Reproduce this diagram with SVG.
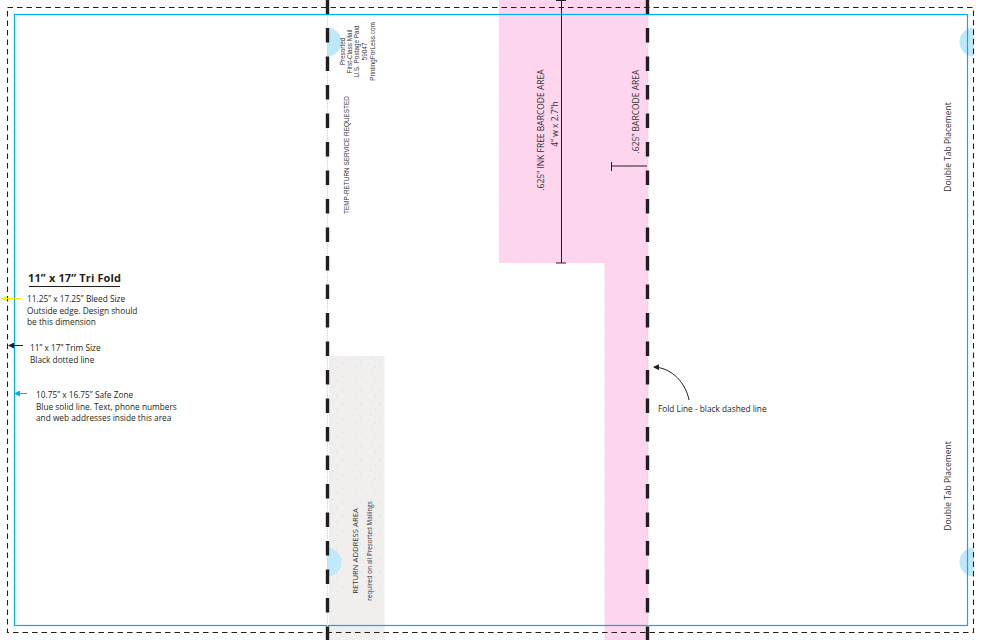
<svg xmlns="http://www.w3.org/2000/svg" width="982" height="640" viewBox="0 0 982 640">
<style>
text{font-family:"Open Sans","Noto Sans",sans-serif;fill:#231f20;font-size:8.3px}
.h{font-family:"Liberation Sans",Arial,sans-serif;font-size:6.4px;text-anchor:middle;fill:#3a3637}
.b{font-size:8.5px;text-anchor:middle;fill:#333}
.fold{stroke:#231f20;stroke-width:3.4;stroke-dasharray:14.5 14;fill:none}
.edge{stroke:#d5d3d3;stroke-width:1;stroke-dasharray:1.500 1;fill:none}
.l{stroke:#231f20;stroke-width:1;fill:none}
.tab{fill:#bde8fa}
</style>
<defs>
<pattern id="pd" x="499" y="22" width="16" height="12" patternUnits="userSpaceOnUse">
<rect width="16" height="12" fill="#fed5ed"/>
<circle cx="3" cy="2" r=".5" fill="#d0d2dc"/><circle cx="11" cy="2.500" r=".5" fill="#d0dce4"/><circle cx="7" cy="8" r=".5" fill="#d0d2dc"/><circle cx="15" cy="8.500" r=".5" fill="#d0dce4"/>
</pattern>
<pattern id="gd" x="329" y="356" width="19" height="14" patternUnits="userSpaceOnUse">
<rect width="19" height="14" fill="#f1eeee"/>
<circle cx="4" cy="3" r=".55" fill="#a9def3"/><circle cx="13" cy="6" r=".55" fill="#a9def3"/><circle cx="8" cy="11" r=".55" fill="#f2c0d8"/>
</pattern>
<marker id="a" markerWidth="6" markerHeight="6" refX="5" refY="3" orient="auto"><path d="M0 0L6 3L0 6Z" fill="context-stroke"/></marker>
<clipPath id="cr"><rect x="900" y="0" width="74" height="640"/></clipPath>
<clipPath id="cl"><rect x="327" y="0" width="40" height="640"/></clipPath>
</defs>
<rect width="982" height="640" fill="#fff"/>
<g id="areas">
<path d="M499 0H648V640H604.500V263H499Z" fill="url(#pd)"/>
<rect x="499" y="0" width="149" height="22" fill="#fed5ed"/>
<rect x="329" y="356" width="55.500" height="284" fill="url(#gd)"/>
<rect x="329" y="600" width="55.500" height="40" fill="#f1eeee" opacity=".5"/>
</g>
<g id="tabs">
<circle class="tab" cx="974" cy="42" r="14.500" clip-path="url(#cr)"/>
<circle class="tab" cx="974" cy="562" r="14.500" clip-path="url(#cr)"/>
<g clip-path="url(#cl)"><circle class="tab" cx="327" cy="42" r="14.500"/><circle class="tab" cx="327" cy="562" r="14.500" opacity=".9"/></g>
</g>
<g id="guides">
<rect x="7.500" y="7.500" width="966" height="625" fill="none" stroke="#231f20" stroke-width="1.100" stroke-dasharray="5.500 4"/>
<rect x="14.500" y="14.500" width="953" height="611" fill="none" stroke="#00aeef" stroke-width="1.200"/>
</g>
<g id="connectors">
<path class="edge" d="M327.500 0V640M648 0V640"/>
<path class="fold" d="M327.500 -0.500V640"/>
<path class="fold" d="M647.500 -0.500V640"/>
<path class="l" d="M561.500 0V263M556 0.500H566M556 263H566"/>
<path class="l" d="M611.500 166H647M611.500 162V171"/>
<path d="M21 298.500H2" stroke="#fff200" stroke-width="1" fill="none" marker-end="url(#a)"/>
<path d="M23 345.500H9" stroke="#231f20" stroke-width="1" fill="none" marker-end="url(#a)"/>
<path d="M27 393.500H15" stroke="#00aeef" stroke-width="1" fill="none" marker-end="url(#a)"/>
<path d="M689 400C686 384 673 368 654 367" stroke="#231f20" stroke-width="1" fill="none" marker-end="url(#a)"/>
<path d="M29 286.500H120" stroke="#231f20" stroke-width="1" fill="none"/>
</g>
<g id="legend">
<text x="28" y="282" style="font-size:11px;font-weight:700" textLength="93">11” x 17” Tri Fold</text>
<text x="27" y="302">11.25” x 17.25” Bleed Size</text>
<text x="27" y="314">Outside edge. Design should</text>
<text x="27" y="325">be this dimension</text>
<text x="30" y="351">11” x 17”  Trim Size</text>
<text x="30" y="363">Black dotted line</text>
<text x="36" y="398">10.75” x 16.75”  Safe Zone</text>
<text x="36" y="410">Blue solid line. Text, phone numbers</text>
<text x="36" y="421">and web addresses inside this area</text>
<text x="658" y="412">Fold Line - black dashed line</text>
</g>
<g id="labels">
<text class="h" transform="translate(344.500,51.500) rotate(-90)">Presorted</text>
<text class="h" transform="translate(352,51.500) rotate(-90)">First-Class Mail</text>
<text class="h" transform="translate(359,51.500) rotate(-90)">U.S. Postage Paid</text>
<text class="h" transform="translate(367,51.500) rotate(-90)">59047</text>
<text class="h" transform="translate(375,51.500) rotate(-90)">PrintingForLess.com</text>
<text class="h" transform="translate(349,155) rotate(-90)">TEMP-RETURN SERVICE REQUESTED</text>
<text class="b" transform="translate(543.500,130) rotate(-90)">.625”  INK FREE BARCODE AREA</text>
<text class="b" transform="translate(557.500,124) rotate(-90)">4” w x 2.7”h</text>
<text class="b" transform="translate(638.500,111.500) rotate(-90)">.625”  BARCODE AREA</text>
<text class="b" transform="translate(357.500,551) rotate(-90)" style="font-size:7.700px">RETURN ADDRESS AREA</text>
<text class="h" style="font-family:'Open Sans',sans-serif;font-size:6.300px" transform="translate(372,551) rotate(-90)">required on all Presorted Mailings</text>
<text class="b" transform="translate(951,147) rotate(-90)">Double Tab Placement</text>
<text class="b" transform="translate(951,486) rotate(-90)">Double Tab Placement</text>
</g>
</svg>
